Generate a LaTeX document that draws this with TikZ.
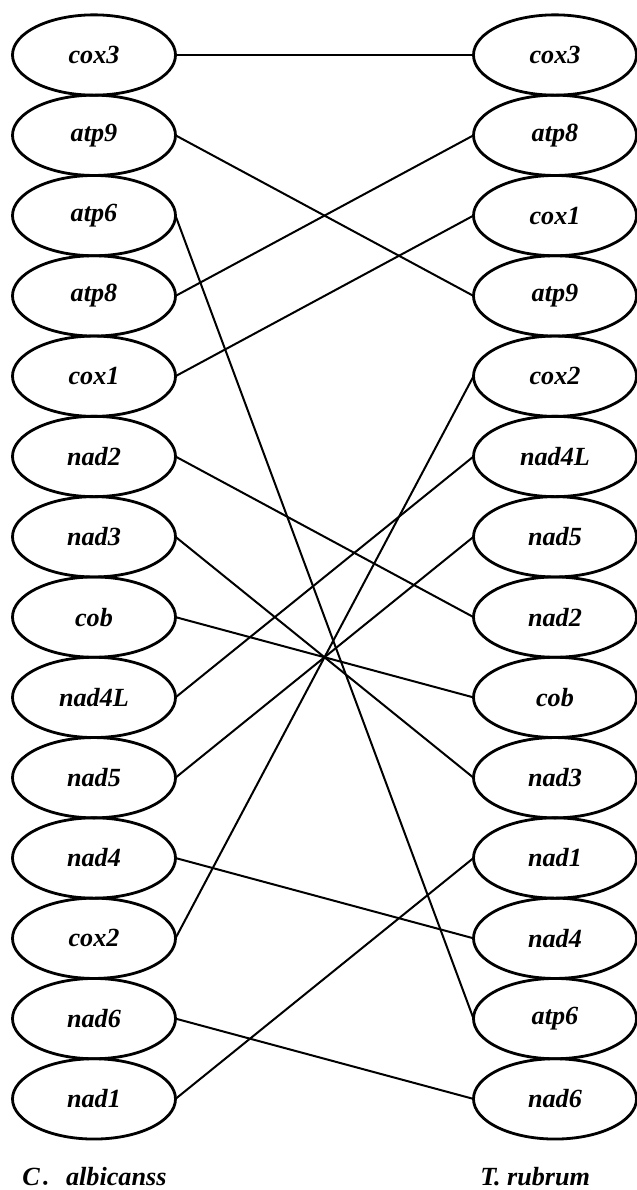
\documentclass[tikz,border=0pt]{standalone}
\usepackage{fontspec}
\setmainfont{Liberation Serif}
\newfontfamily\cjk{Noto Sans CJK SC}
\usetikzlibrary{positioning}
\usetikzlibrary{shapes.geometric}

\begin{document}
\begin{tikzpicture}[  x=0.5pt,  y=-0.5pt,  node distance=0pt,  gene/.style={    draw,    ellipse,    line width=1.4pt,    minimum width=81.5pt,    minimum height=40.15pt,    inner sep=0pt,    outer sep=0pt,    font=\fontsize{13.1}{16}\selectfont\bfseries\itshape  },  link/.style={    line width=1pt  },  species/.style={    anchor=base west,    inner sep=0pt,    font=\fontsize{13.1}{16}\selectfont\bfseries\itshape  }]
		\useasboundingbox (0,0) rectangle (637,1190);
		% Nodes
		\node[gene] (Lcox3) at (94,55) {cox3};
		\node[gene, below=of Lcox3] (Latp9) {atp9};
		\node[gene, below=of Latp9] (Latp6) {atp6};
		\node[gene, below=of Latp6] (Latp8) {atp8};
		\node[gene, below=of Latp8] (Lcox1) {cox1};
		\node[gene, below=of Lcox1] (Lnad2) {nad2};
		\node[gene, below=of Lnad2] (Lnad3) {nad3};
		\node[gene, below=of Lnad3] (Lcob) {cob};
		\node[gene, below=of Lcob] (Lnad4L) {nad4L};
		\node[gene, below=of Lnad4L] (Lnad5) {nad5};
		\node[gene, below=of Lnad5] (Lnad4) {nad4};
		\node[gene, below=of Lnad4] (Lcox2) {cox2};
		\node[gene, below=of Lcox2] (Lnad6) {nad6};
		\node[gene, below=of Lnad6] (Lnad1) {nad1};
		\node[gene, right=149pt of Lcox3] (Rcox3) {cox3};
		\node[gene, below=of Rcox3] (Ratp8) {atp8};
		\node[gene, below=of Ratp8] (Rcox1) {cox1};
		\node[gene, below=of Rcox1] (Ratp9) {atp9};
		\node[gene, below=of Ratp9] (Rcox2) {cox2};
		\node[gene, below=of Rcox2] (Rnad4L) {nad4L};
		\node[gene, below=of Rnad4L] (Rnad5) {nad5};
		\node[gene, below=of Rnad5] (Rnad2) {nad2};
		\node[gene, below=of Rnad2] (Rcob) {cob};
		\node[gene, below=of Rcob] (Rnad3) {nad3};
		\node[gene, below=of Rnad3] (Rnad1) {nad1};
		\node[gene, below=of Rnad1] (Rnad4) {nad4};
		\node[gene, below=of Rnad4] (Ratp6) {atp6};
		\node[gene, below=of Ratp6] (Rnad6) {nad6};
		% Links
		\draw[link] (Lcox3.east) -- (Rcox3.west);
		\draw[link] (Latp9.east) -- (Ratp9.west);
		\draw[link] (Latp6.east) -- (Ratp6.west);
		\draw[link] (Latp8.east) -- (Ratp8.west);
		\draw[link] (Lcox1.east) -- (Rcox1.west);
		\draw[link] (Lnad2.east) -- (Rnad2.west);
		\draw[link] (Lnad3.east) -- (Rnad3.west);
		\draw[link] (Lcob.east) -- (Rcob.west);
		\draw[link] (Lnad4L.east) -- (Rnad4L.west);
		\draw[link] (Lnad5.east) -- (Rnad5.west);
		\draw[link] (Lnad4.east) -- (Rnad4.west);
		\draw[link] (Lcox2.east) -- (Rcox2.west);
		\draw[link] (Lnad6.east) -- (Rnad6.west);
		\draw[link] (Lnad1.east) -- (Rnad1.west);
		% Labels
		\node[species] (Lname) at (22,1185) {C{\upshape\mdseries\cjk ．}albicanss};
		\node[species] (Rname) at (480,1185) {T. rubrum};
	\end{tikzpicture}
\end{document}
